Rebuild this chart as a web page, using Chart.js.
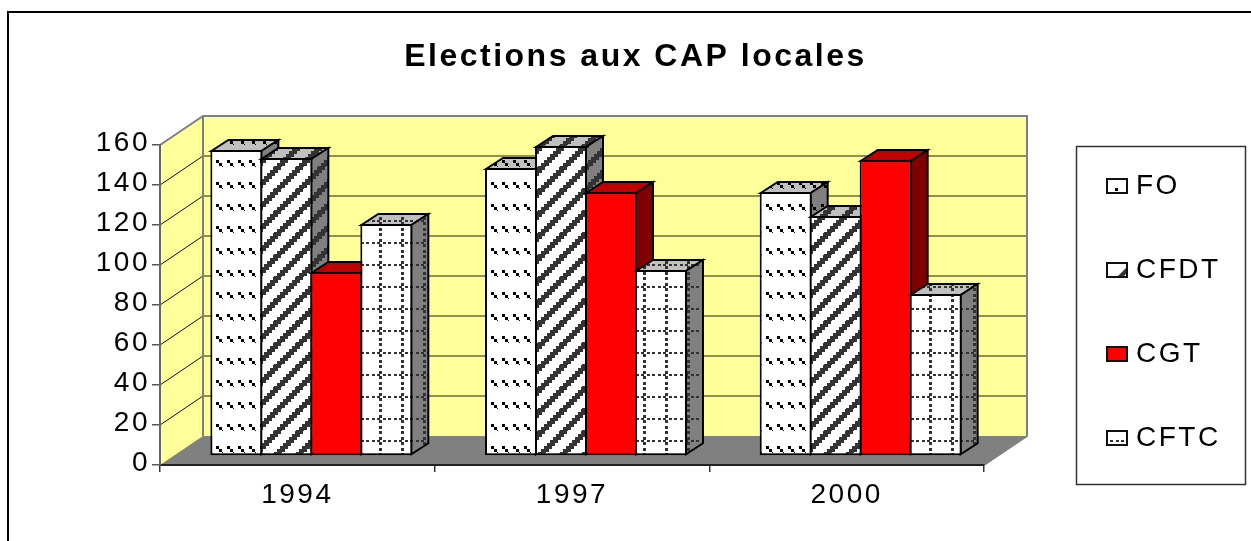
<!DOCTYPE html>
<html>
<head>
  <title>Elections aux CAP locales</title>
  <script src="https://cdn.jsdelivr.net/npm/chart.js"></script>
  <style>
    html, body { margin: 0; padding: 0; background: #fff; overflow: hidden; }
    #box { position: relative; width: 1251px; height: 541px; }
  </style>
</head>
<body>

<div id="box"><canvas id="myChart"></canvas></div>

<script>
  // data
  const titleText = 'Elections aux CAP locales';
  const years = ['1994', '1997', '2000'];
  const seriesNames = ['FO', 'CFDT', 'CGT', 'CFTC'];
  const foValues = [153, 144, 132];
  const cfdtValues = [149, 155, 120];
  const cgtValues = [92, 132, 148];
  const cftcValues = [116, 93, 81];

  // 3d look
  const wallDepth = { x: 43, y: 29 };
  const barShift = { x: 14, y: 9 };
  const barDepth = { x: 17, y: 11 };

  // pattern tiles
  function makeTile(kind, bg) {
    const tile = document.createElement('canvas');
    const c = tile.getContext('2d');
    if (kind === 'dash') {
      tile.width = 11; tile.height = 22;
      c.fillStyle = bg; c.fillRect(0, 0, 11, 22);
      c.fillStyle = '#000';
      const px = 4, py = 15;
      [[0, 0], [3, 3], [6, 6]].forEach(p => c.fillRect((p[0] + px) % 11, (p[1] + py) % 22, 3, 3));
    } else if (kind === 'stripe') {
      tile.width = 22; tile.height = 22;
      c.fillStyle = bg; c.fillRect(0, 0, 22, 22);
      c.fillStyle = '#333';
      for (let y = 0; y < 22; y++) {
        const row = y - (y % 3);
        for (let x = 0; x < 22; x++) {
          if ((x + row + 5) % 22 < 8) c.fillRect(x, y, 1, 1);
        }
      }
    } else if (kind === 'dots') {
      tile.width = 22; tile.height = 22;
      c.fillStyle = bg; c.fillRect(0, 0, 22, 22);
      c.fillStyle = '#333';
      [0, 6, 11, 17].forEach(o => {
        c.fillRect(13, o, 3, 3);
        c.fillRect(o, 9, 3, 2);
      });
    }
    return tile;
  }

  function makeFill(kind, bg) {
    if (kind === 'solid') return bg;
    return document.createElement('canvas').getContext('2d').createPattern(makeTile(kind, bg), 'repeat');
  }

  const looks = [
    { kind: 'dash', front: '#ffffff', top: '#c0c0c0', side: '#808080' },
    { kind: 'stripe', front: '#ffffff', top: '#c0c0c0', side: '#808080' },
    { kind: 'solid', front: '#ff0000', top: '#c00000', side: '#800000' },
    { kind: 'dots', front: '#ffffff', top: '#c0c0c0', side: '#808080' }
  ];
  looks.forEach(l => {
    l.frontFill = makeFill(l.kind, l.front);
    l.topFill = makeFill(l.kind, l.top);
    l.sideFill = makeFill(l.kind, l.side);
  });

  // small swatch for the legend
  function makeSwatch(look, i) {
    const s = document.createElement('canvas');
    s.width = 22; s.height = 16;
    const c = s.getContext('2d');
    c.fillStyle = look.front;
    c.fillRect(0, 0, 22, 16);
    c.fillStyle = '#000';
    if (i === 0) c.fillRect(9, 10, 3, 3);
    c.fillStyle = '#333';
    if (i === 1) {
      c.beginPath(); c.moveTo(10, 16); c.lineTo(22, 4); c.lineTo(22, 10); c.lineTo(16, 16); c.fill();
    }
    if (i === 3) [4, 10, 15].forEach(x => c.fillRect(x, 10, 3, 2));
    c.strokeStyle = '#111';
    c.lineWidth = 2;
    c.strokeRect(1, 1, 20, 14);
    return s;
  }

  function line(ctx, x1, y1, x2, y2) {
    ctx.beginPath();
    ctx.moveTo(x1, y1);
    ctx.lineTo(x2, y2);
    ctx.stroke();
  }

  function face(ctx, pts, fill) {
    ctx.beginPath();
    pts.forEach((p, i) => i ? ctx.lineTo(p[0], p[1]) : ctx.moveTo(p[0], p[1]));
    ctx.closePath();
    ctx.fillStyle = fill;
    ctx.fill();
    ctx.stroke();
  }

  const box3d = {
    id: 'box3d',
    beforeUpdate(chart) {
      chart.ctx.letterSpacing = '2.5px';
    },
    afterLayout(chart) {
      // title and legend do not sit where the layout puts them
      chart.titleBlock.left = 20;
      chart.titleBlock.right = 1251;
      const lg = chart.legend;
      lg.left = 1056; lg.right = 1251;
      lg.top = 116; lg.bottom = 541;
    },
    beforeDraw(chart) {
      const ctx = chart.ctx;
      ctx.letterSpacing = '2.5px';
      const { left, right, top, bottom } = chart.chartArea;
      const y = chart.scales.y;
      const dx = wallDepth.x, dy = wallDepth.y;

      ctx.save();
      // outer frame, only top and left show
      ctx.strokeStyle = '#000';
      ctx.lineWidth = 2;
      line(ctx, 8, 541, 8, 12);
      line(ctx, 7, 12, 1251, 12);

      // legend frame
      ctx.strokeStyle = '#333';
      ctx.lineWidth = 1.5;
      ctx.strokeRect(1076.5, 146.5, 169, 338);

      // side wall and back wall
      ctx.fillStyle = '#ffff99';
      ctx.beginPath();
      ctx.moveTo(left, bottom);
      ctx.lineTo(left, top);
      ctx.lineTo(left + dx, top - dy);
      ctx.lineTo(right + dx, top - dy);
      ctx.lineTo(right + dx, bottom - dy);
      ctx.lineTo(left + dx, bottom - dy);
      ctx.closePath();
      ctx.fill();

      // floor
      ctx.fillStyle = '#808080';
      ctx.beginPath();
      ctx.moveTo(left, bottom);
      ctx.lineTo(left + dx, bottom - dy);
      ctx.lineTo(right + dx, bottom - dy);
      ctx.lineTo(right, bottom);
      ctx.closePath();
      ctx.fill();

      // grid on the walls
      y.ticks.forEach(t => {
        const py = y.getPixelForValue(t.value);
        if (t.value > 0 && t.value < y.max) {
          ctx.strokeStyle = '#6b6b3c';
          ctx.lineWidth = 1.5;
          line(ctx, left + dx, py - dy, right + dx, py - dy);
          ctx.strokeStyle = '#111';
          ctx.lineWidth = 1;
          line(ctx, left, py, left + dx, py - dy);
        }
      });

      // wall outline
      ctx.strokeStyle = '#808080';
      ctx.lineWidth = 2;
      ctx.beginPath();
      ctx.moveTo(left, top);
      ctx.lineTo(left + dx, top - dy);
      ctx.lineTo(right + dx, top - dy);
      ctx.lineTo(right + dx, bottom - dy);
      ctx.lineTo(right, bottom);
      ctx.stroke();
      line(ctx, left + dx, top - dy, left + dx, bottom - dy);
      ctx.restore();
    },
    // left series first, each one covers the side of the one before it
    beforeDatasetsDraw(chart) {
      const ctx = chart.ctx;
      ctx.save();
      ctx.translate(barShift.x, -barShift.y);
      chart.data.datasets.forEach((ds, i) => {
        const meta = chart.getDatasetMeta(i);
        const look = looks[i];
        ctx.save();
        ctx.strokeStyle = '#000';
        ctx.lineWidth = 2;
        ctx.lineJoin = 'miter';
        meta.data.forEach(bar => {
          const l = bar.x - bar.width / 2 + 1;
          const r = bar.x + bar.width / 2 - 1;
          const t = bar.y + 1;
          const b = bar.base - 1;
          const ox = barDepth.x, oy = barDepth.y;
          face(ctx, [[l, t], [l + ox, t - oy], [r + ox, t - oy], [r, t]], look.topFill);
          face(ctx, [[r, t], [r + ox, t - oy], [r + ox, b - oy], [r, b]], look.sideFill);
        });
        ctx.restore();
        meta.controller.draw();
      });
      ctx.restore();
      return false;
    }
  };

  const allValues = [foValues, cfdtValues, cgtValues, cftcValues];
  const swatches = looks.map(makeSwatch);

  new Chart(document.getElementById('myChart'), {
    type: 'bar',
    data: {
      labels: years,
      datasets: seriesNames.map((name, i) => ({
        label: name,
        data: allValues[i],
        backgroundColor: looks[i].frontFill,
        borderColor: '#000',
        borderWidth: 2,
        borderSkipped: false,
        barPercentage: 1.04,
        categoryPercentage: 0.728,
        clip: false
      }))
    },
    options: {
      responsive: true,
      maintainAspectRatio: false,
      animation: false,
      events: [],
      layout: { padding: { left: 0, top: 0, right: 167, bottom: 0 } },
      font: { family: '"Liberation Sans", Arial, sans-serif' },
      scales: {
        x: {
          offset: true,
          afterFit(s) { s.height = 76; },
          grid: { offset: true, drawOnChartArea: false, color: '#333', lineWidth: 1.5, tickLength: 7 },
          border: { color: '#222', width: 2 },
          ticks: { color: '#000', padding: 6, maxRotation: 0, font: { family: '"Liberation Sans"', size: 28 } }
        },
        y: {
          min: 0,
          max: 160,
          afterFit(s) { s.width = 160; },
          grid: { drawOnChartArea: false, color: '#555', lineWidth: 1.5, tickLength: 8 },
          border: { color: '#666', width: 2 },
          ticks: { stepSize: 20, color: '#000', padding: 2, labelOffset: -2, font: { family: '"Liberation Sans"', size: 28 } }
        }
      },
      plugins: {
        tooltip: { enabled: false },
        title: {
          display: true,
          text: titleText,
          color: '#000',
          font: { family: '"Liberation Sans"', size: 32, weight: 'bold' },
          padding: { top: 38, bottom: 68.6 }
        },
        legend: {
          position: 'right',
          align: 'start',
          maxWidth: 100,
          labels: {
            color: '#000',
            font: { family: '"Liberation Sans"', size: 28 },
            padding: 56,
            usePointStyle: true,
            pointStyleWidth: 10,
            generateLabels(chart) {
              return seriesNames.map((name, i) => ({
                text: name,
                pointStyle: swatches[i],
                fontColor: '#000',
                datasetIndex: i
              }));
            }
          }
        }
      }
    },
    plugins: [box3d]
  });
</script>

</body>
</html>
